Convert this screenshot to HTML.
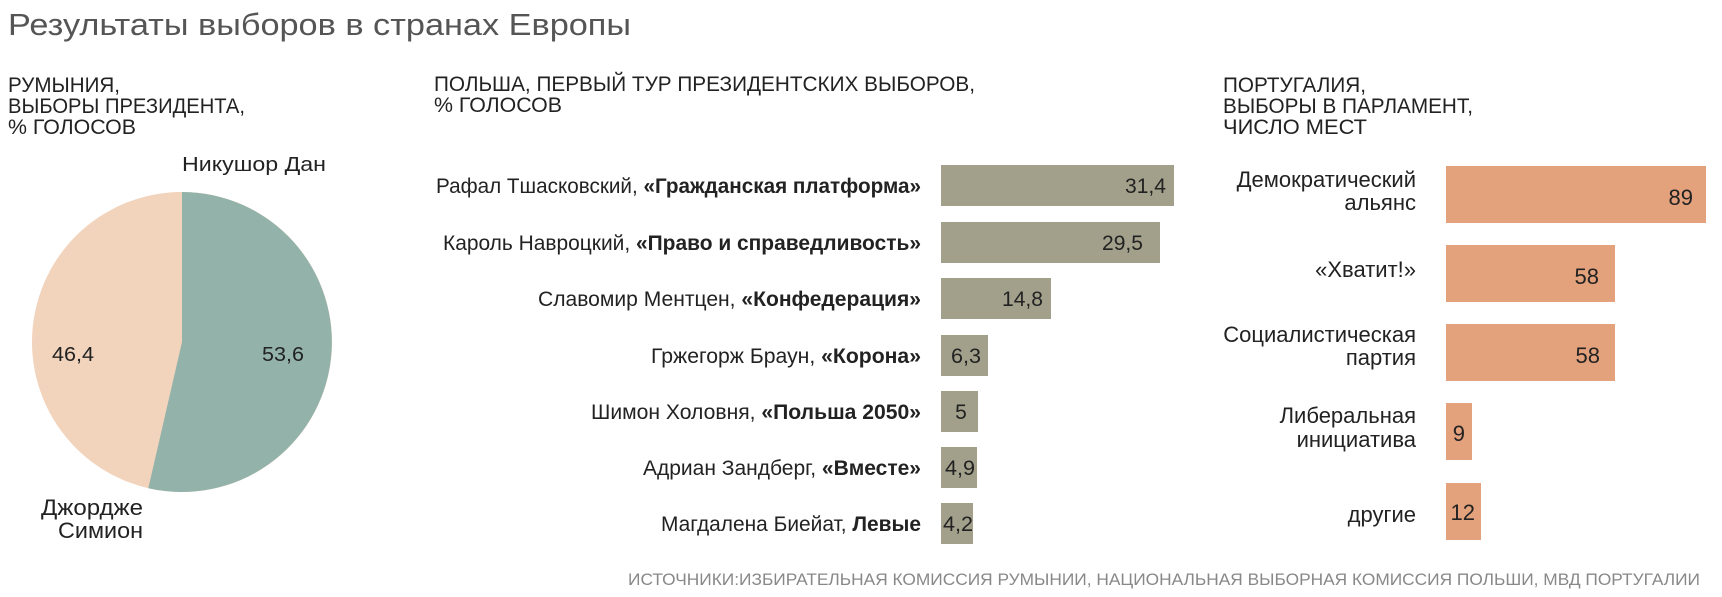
<!DOCTYPE html>
<html><head><meta charset="utf-8"><style>
html,body{margin:0;padding:0;background:#fff;}
svg{display:block;font-family:"Liberation Sans",sans-serif;}
</style></head><body>
<svg width="1722" height="597" viewBox="0 0 1722 597">
<text x="8" y="35" font-size="31" fill="#555" textLength="623" lengthAdjust="spacingAndGlyphs">Результаты выборов в странах Европы</text>
<g font-size="21" fill="#222">
<text x="8" y="92" textLength="112" lengthAdjust="spacingAndGlyphs">РУМЫНИЯ,</text>
<text x="8" y="113" textLength="237" lengthAdjust="spacingAndGlyphs">ВЫБОРЫ ПРЕЗИДЕНТА,</text>
<text x="8" y="134" textLength="128" lengthAdjust="spacingAndGlyphs">% ГОЛОСОВ</text>
<text x="434" y="91" textLength="541" lengthAdjust="spacingAndGlyphs">ПОЛЬША, ПЕРВЫЙ ТУР ПРЕЗИДЕНТСКИХ ВЫБОРОВ,</text>
<text x="434" y="112" textLength="128" lengthAdjust="spacingAndGlyphs">% ГОЛОСОВ</text>
<text x="1223" y="92" textLength="143" lengthAdjust="spacingAndGlyphs">ПОРТУГАЛИЯ,</text>
<text x="1223" y="113" textLength="250" lengthAdjust="spacingAndGlyphs">ВЫБОРЫ В ПАРЛАМЕНТ,</text>
<text x="1223" y="134" textLength="144" lengthAdjust="spacingAndGlyphs">ЧИСЛО МЕСТ</text>
</g>
<!-- pie -->
<circle cx="182" cy="342" r="150" fill="#f2d3bc"/>
<path d="M182 342 L182 192 A150 150 0 1 1 148.3 488.2 Z" fill="#93b3aa"/>
<g font-size="20" fill="#222">
<text x="182" y="171" textLength="144" lengthAdjust="spacingAndGlyphs">Никушор Дан</text>
<text x="262" y="361" textLength="42" lengthAdjust="spacingAndGlyphs">53,6</text>
<text x="52" y="361" textLength="42" lengthAdjust="spacingAndGlyphs">46,4</text>
<text x="143" y="515" text-anchor="end" font-size="22" textLength="102" lengthAdjust="spacingAndGlyphs">Джордже</text>
<text x="143" y="538" text-anchor="end" font-size="22" textLength="85" lengthAdjust="spacingAndGlyphs">Симион</text>
</g>
<!-- Poland -->
<g fill="#a2a08b">
<rect x="941" y="165" width="233" height="41"/>
<rect x="941" y="222" width="219" height="41"/>
<rect x="941" y="278" width="110" height="41"/>
<rect x="941" y="335" width="47" height="41"/>
<rect x="941" y="391" width="37" height="41"/>
<rect x="941" y="447" width="36" height="41"/>
<rect x="941" y="503" width="32" height="41"/>
</g>
<g font-size="21" fill="#222">
<text x="436" y="193" textLength="485" lengthAdjust="spacingAndGlyphs">Рафал Тшасковский, <tspan font-weight="bold">«Гражданская платформа»</tspan></text>
<text x="443" y="250" textLength="478" lengthAdjust="spacingAndGlyphs">Кароль Навроцкий, <tspan font-weight="bold">«Право и справедливость»</tspan></text>
<text x="538" y="306" textLength="383" lengthAdjust="spacingAndGlyphs">Славомир Ментцен, <tspan font-weight="bold">«Конфедерация»</tspan></text>
<text x="651" y="363" textLength="270" lengthAdjust="spacingAndGlyphs">Гржегорж Браун, <tspan font-weight="bold">«Корона»</tspan></text>
<text x="591" y="419" textLength="330" lengthAdjust="spacingAndGlyphs">Шимон Холовня, <tspan font-weight="bold">«Польша 2050»</tspan></text>
<text x="643" y="475" textLength="278" lengthAdjust="spacingAndGlyphs">Адриан Зандберг, <tspan font-weight="bold">«Вместе»</tspan></text>
<text x="661" y="531" textLength="260" lengthAdjust="spacingAndGlyphs">Магдалена Биейат, <tspan font-weight="bold">Левые</tspan></text>
<text x="1166" y="193" text-anchor="end" textLength="41" lengthAdjust="spacingAndGlyphs">31,4</text>
<text x="1143" y="250" text-anchor="end" textLength="41" lengthAdjust="spacingAndGlyphs">29,5</text>
<text x="1043" y="306" text-anchor="end" textLength="41" lengthAdjust="spacingAndGlyphs">14,8</text>
<text x="966" y="363" text-anchor="middle" textLength="30" lengthAdjust="spacingAndGlyphs">6,3</text>
<text x="961" y="419" text-anchor="middle">5</text>
<text x="960" y="475" text-anchor="middle" textLength="30" lengthAdjust="spacingAndGlyphs">4,9</text>
<text x="958" y="531" text-anchor="middle" textLength="30" lengthAdjust="spacingAndGlyphs">4,2</text>
</g>
<!-- Portugal -->
<g fill="#e3a17c">
<rect x="1446" y="166" width="260" height="57"/>
<rect x="1446" y="245" width="169" height="57"/>
<rect x="1446" y="324" width="169" height="57"/>
<rect x="1446" y="403" width="26" height="57"/>
<rect x="1446" y="483" width="35" height="57"/>
</g>
<g font-size="22" fill="#222" text-anchor="end">
<text x="1416" y="187">Демократический</text>
<text x="1416" y="210">альянс</text>
<text x="1416" y="277">«Хватит!»</text>
<text x="1416" y="342">Социалистическая</text>
<text x="1416" y="365">партия</text>
<text x="1416" y="423">Либеральная</text>
<text x="1416" y="447">инициатива</text>
<text x="1416" y="522">другие</text>
<text x="1693" y="205">89</text>
<text x="1599" y="284">58</text>
<text x="1600" y="363">58</text>
<text x="1465" y="441">9</text>
<text x="1475" y="520">12</text>
</g>
<text x="1700" y="585" font-size="17" fill="#888" text-anchor="end" textLength="1072" lengthAdjust="spacingAndGlyphs">ИСТОЧНИКИ:ИЗБИРАТЕЛЬНАЯ КОМИССИЯ РУМЫНИИ, НАЦИОНАЛЬНАЯ ВЫБОРНАЯ КОМИССИЯ ПОЛЬШИ, МВД ПОРТУГАЛИИ</text>
</svg>
</body></html>
